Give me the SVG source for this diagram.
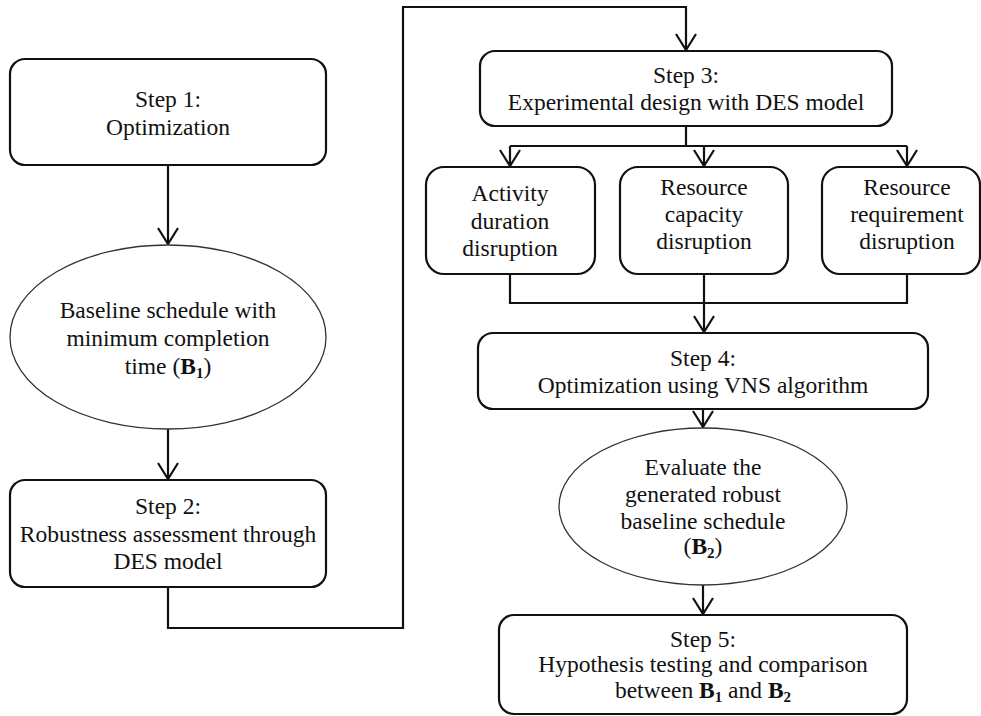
<svg xmlns="http://www.w3.org/2000/svg" width="981" height="716" viewBox="0 0 981 716">
<defs>
<marker id="arr" viewBox="0 0 18 22" refX="17" refY="11" markerWidth="18" markerHeight="22" markerUnits="userSpaceOnUse" orient="auto">
<path d="M1,1 L17,11 L1,21" fill="none" stroke="#111" stroke-width="2.2"/>
</marker>
<style>
.box{fill:#fff;stroke:#111;stroke-width:2.2}
.ell{fill:#fff;stroke:#333;stroke-width:1.3}
.t{font-family:"Liberation Serif","Times New Roman",serif;font-size:23.5px;fill:#111;text-anchor:middle}
.b{font-weight:bold}
.s{font-size:15px;font-weight:bold}
.c{fill:none;stroke:#111;stroke-width:2.2}
</style>
</defs>
<rect width="981" height="716" fill="#fff"/>
<g id="connectors">
<path class="c" d="M168,165 V244" marker-end="url(#arr)"/>
<path class="c" d="M168,429 V479" marker-end="url(#arr)"/>
<path class="c" d="M168,587 V628 H403 V7 H686 V50" marker-end="url(#arr)"/>
<path class="c" d="M686,126 V146"/>
<path class="c" d="M510,146 H907"/>
<path class="c" d="M510,146 V166" marker-end="url(#arr)"/>
<path class="c" d="M704,146 V166" marker-end="url(#arr)"/>
<path class="c" d="M907,146 V166" marker-end="url(#arr)"/>
<path class="c" d="M510,274 V303 H907 V274"/>
<path class="c" d="M704,274 V332" marker-end="url(#arr)"/>
<path class="c" d="M703,409 V427" marker-end="url(#arr)"/>
<path class="c" d="M703,585 V614" marker-end="url(#arr)"/>
</g>
<g id="step1">
<rect class="box" x="10" y="59" width="316" height="106" rx="15"/>
<text class="t" x="168" y="107">Step 1:</text>
<text class="t" x="168" y="135">Optimization</text>
</g>
<g id="b1">
<ellipse class="ell" cx="168" cy="337" rx="158" ry="92"/>
<text class="t" x="168" y="318">Baseline schedule with</text>
<text class="t" x="168" y="346">minimum completion</text>
<text class="t" x="168" y="374">time (<tspan class="b">B</tspan><tspan class="s" dy="4">1</tspan><tspan dy="-4">)</tspan></text>
</g>
<g id="step2">
<rect class="box" x="10" y="480" width="316" height="107" rx="15"/>
<text class="t" x="168" y="514">Step 2:</text>
<text class="t" x="168" y="542">Robustness assessment through</text>
<text class="t" x="168" y="569">DES model</text>
</g>
<g id="step3">
<rect class="box" x="480" y="51" width="412" height="75" rx="15"/>
<text class="t" x="686" y="83">Step 3:</text>
<text class="t" x="686" y="110">Experimental design with DES model</text>
</g>
<g id="activity">
<rect class="box" x="426" y="167" width="169" height="107" rx="18"/>
<text class="t" x="510" y="201">Activity</text>
<text class="t" x="510" y="229">duration</text>
<text class="t" x="510" y="256">disruption</text>
</g>
<g id="capacity">
<rect class="box" x="620" y="167" width="168" height="107" rx="18"/>
<text class="t" x="704" y="195">Resource</text>
<text class="t" x="704" y="222">capacity</text>
<text class="t" x="704" y="249">disruption</text>
</g>
<g id="requirement">
<rect class="box" x="822" y="167" width="158" height="107" rx="18"/>
<text class="t" x="907" y="195">Resource</text>
<text class="t" x="907" y="222">requirement</text>
<text class="t" x="907" y="249">disruption</text>
</g>
<g id="step4">
<rect class="box" x="478" y="333" width="450" height="76" rx="15"/>
<text class="t" x="703" y="366">Step 4:</text>
<text class="t" x="703" y="393">Optimization using VNS algorithm</text>
</g>
<g id="b2">
<ellipse class="ell" cx="703" cy="506.5" rx="144" ry="78.5"/>
<text class="t" x="703" y="475">Evaluate the</text>
<text class="t" x="703" y="502">generated robust</text>
<text class="t" x="703" y="529">baseline schedule</text>
<text class="t" x="703" y="554">(<tspan class="b">B</tspan><tspan class="s" dy="4">2</tspan><tspan dy="-4">)</tspan></text>
</g>
<g id="step5">
<rect class="box" x="499" y="615" width="408" height="99" rx="15"/>
<text class="t" x="703" y="647">Step 5:</text>
<text class="t" x="703" y="672">Hypothesis testing and comparison</text>
<text class="t" x="703" y="698">between <tspan class="b">B</tspan><tspan class="s" dy="4">1</tspan><tspan dy="-4"> and </tspan><tspan class="b">B</tspan><tspan class="s" dy="4">2</tspan></text>
</g>
</svg>
